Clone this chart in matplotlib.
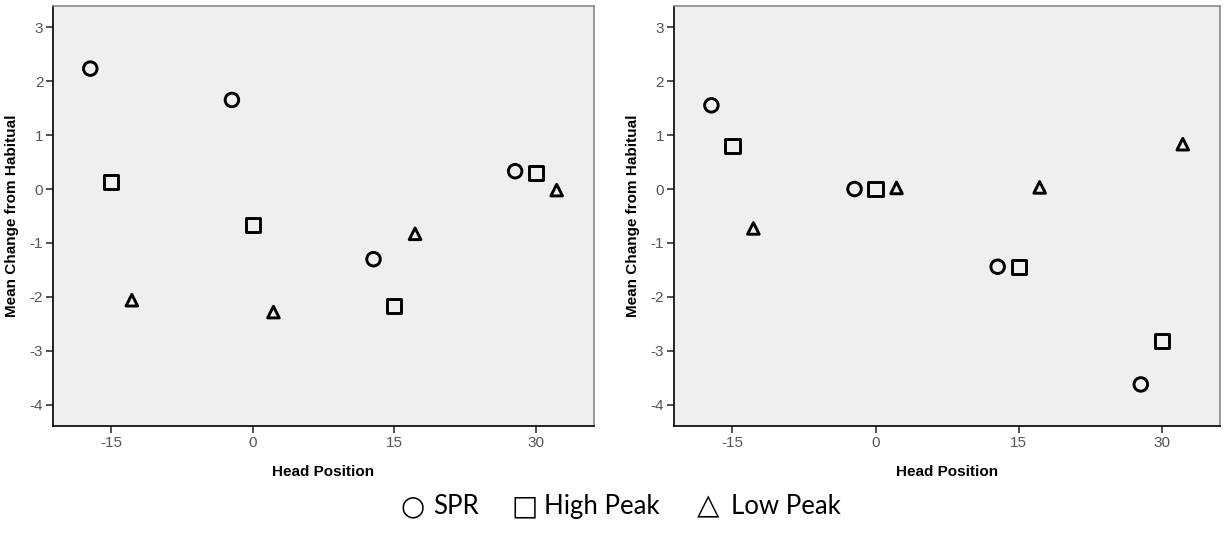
import matplotlib
matplotlib.use("Agg")
import matplotlib.pyplot as plt

# head positions (markers are drawn side by side around -15, 0, 15, 30)
spr_x = [-17.2, -2.2, 12.8, 27.8]
high_x = [-15, 0, 15, 30]
low_x = [-12.8, 2.2, 17.2, 32.2]

# left panel
left_spr = [2.23, 1.65, -1.30, 0.33]
left_high = [0.13, -0.66, -2.17, 0.30]
left_low = [-2.06, -2.28, -0.83, -0.02]

# right panel
right_spr = [1.55, 0.0, -1.44, -3.62]
right_high = [0.79, 0.0, -1.44, -2.81]
right_low = [-0.73, 0.02, 0.03, 0.83]

x_ticks = [-15, 0, 15, 30]
y_ticks = [-4, -3, -2, -1, 0, 1, 2, 3]
legend_labels = ["SPR", "High Peak", "Low Peak"]
legend_symbols = ["\u25cb", "\u25a1", "\u25b3"]

plt.rcParams['font.family'] = ['Liberation Sans', 'DejaVu Sans']
plt.rcParams['axes.unicode_minus'] = False

fig = plt.figure(figsize=(12.25, 5.33), dpi=100)
ax_left = fig.add_axes([53 / 1225, 1 - 426 / 533, 540.5 / 1225, 420 / 533])
ax_right = fig.add_axes([673.7 / 1225, 1 - 426 / 533, 546.3 / 1225, 420 / 533])


def draw_panel(ax, spr, high, low):
    ax.set_facecolor('#efefef')
    ax.scatter(spr_x, spr, s=95, marker='o', facecolors='none',
               edgecolors='black', linewidths=2.1, zorder=3)
    ax.scatter(high_x, high, s=105, marker='s', facecolors='none',
               edgecolors='black', linewidths=2.1, zorder=3)
    ax.scatter(low_x, low, s=70, marker='^', facecolors='none',
               edgecolors='black', linewidths=2.1, zorder=3)
    ax.set_xlim(-21.15, 36.1)
    ax.set_ylim(-4.39, 3.39)
    ax.set_xticks(x_ticks)
    ax.set_yticks(y_ticks)
    ax.tick_params(length=5, width=1.2, color='#333333', labelcolor='#555555',
                   labelsize=11, pad=2)
    for side in ['left', 'bottom']:
        ax.spines[side].set_color('black')
        ax.spines[side].set_linewidth(1.2)
    for side in ['top', 'right']:
        ax.spines[side].set_color('#888888')
        ax.spines[side].set_linewidth(1.2)
    ax.set_xlabel('Head Position', fontsize=11, fontweight='bold')
    ax.set_ylabel('Mean Change from Habitual', fontsize=11, fontweight='bold')
    ax.xaxis.set_label_coords(0.5, -0.092)
    ax.yaxis.set_label_coords(-0.062, 0.5)


draw_panel(ax_left, left_spr, left_high, left_low)
draw_panel(ax_right, right_spr, right_high, right_low)

# legend drawn as text under the panels
sym_x = [401, 511, 697]
lab_x = [433, 544, 731]
sym_size = [20, 20, 21]
for sym, lab, sx, lx, ss in zip(legend_symbols, legend_labels, sym_x, lab_x, sym_size):
    fig.text(sx / 1225, 1 - 514 / 533, sym, fontsize=ss, va='baseline',
             family=['DejaVu Sans'])
    fig.text(lx / 1225, 1 - 514 / 533, lab, fontsize=18.5, va='baseline',
             family=['Lato', 'DejaVu Sans'])

fig.savefig('out.png', dpi=100)
